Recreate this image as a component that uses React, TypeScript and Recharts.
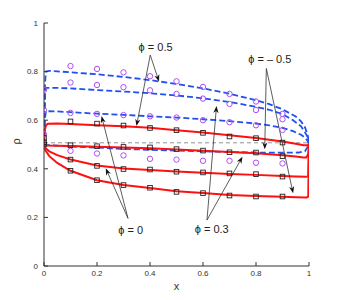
import React from 'react';
import {
  ComposedChart, Line, Scatter, XAxis, YAxis, ReferenceLine, ReferenceDot,
} from 'recharts';

// ---- solid red curves (model, phi values) ----
const redX1 = [0, 0.003, 0.008, 0.015, 0.05, 0.1, 0.2, 0.3, 0.4, 0.5, 0.6, 0.7, 0.8, 0.9, 0.95, 0.98, 0.995, 1];
const redY1 = [0.5, 0.56, 0.58, 0.585, 0.586, 0.584, 0.579, 0.575, 0.569, 0.559, 0.549, 0.538, 0.527, 0.512, 0.503, 0.497, 0.497, 0.5];
const redX2 = [0, 0.01, 0.05, 0.1, 0.2, 0.3, 0.4, 0.5, 0.6, 0.7, 0.8, 0.9, 0.95, 0.98, 0.99, 0.997, 1];
const redY2 = [0.5, 0.496, 0.495, 0.494, 0.491, 0.488, 0.485, 0.479, 0.474, 0.469, 0.464, 0.456, 0.451, 0.447, 0.447, 0.46, 0.5];
const redX3 = [0, 0.005, 0.02, 0.05, 0.1, 0.2, 0.3, 0.4, 0.5, 0.6, 0.7, 0.8, 0.9, 0.95, 0.99, 0.997, 1];
const redY3 = [0.5, 0.486, 0.472, 0.456, 0.438, 0.414, 0.401, 0.395, 0.389, 0.384, 0.379, 0.375, 0.37, 0.368, 0.367, 0.37, 0.5];
const redX4 = [0, 0.005, 0.02, 0.05, 0.1, 0.2, 0.3, 0.4, 0.5, 0.6, 0.7, 0.8, 0.9, 0.95, 0.99, 0.997, 1];
const redY4 = [0.5, 0.476, 0.452, 0.424, 0.392, 0.353, 0.333, 0.321, 0.308, 0.3, 0.292, 0.288, 0.285, 0.283, 0.282, 0.285, 0.5];

// ---- dashed blue curves ----
const blueX1 = [0, 0.002, 0.004, 0.007, 0.02, 0.05, 0.1, 0.2, 0.3, 0.4, 0.5, 0.6, 0.7, 0.8, 0.85, 0.9, 0.95, 0.97, 0.985, 0.995, 1];
const blueY1 = [0.5, 0.6, 0.75, 0.8, 0.803, 0.801, 0.797, 0.789, 0.778, 0.765, 0.749, 0.731, 0.709, 0.682, 0.666, 0.645, 0.615, 0.595, 0.57, 0.54, 0.5];
const blueX2 = [0, 0.002, 0.004, 0.008, 0.05, 0.1, 0.2, 0.3, 0.4, 0.5, 0.6, 0.7, 0.8, 0.85, 0.9, 0.94, 0.97, 0.985, 0.995, 1];
const blueY2 = [0.5, 0.6, 0.72, 0.733, 0.733, 0.731, 0.724, 0.718, 0.711, 0.702, 0.69, 0.675, 0.655, 0.643, 0.625, 0.6, 0.575, 0.55, 0.53, 0.5];
const blueX3 = [0, 0.003, 0.007, 0.05, 0.1, 0.2, 0.3, 0.4, 0.5, 0.6, 0.7, 0.8, 0.85, 0.9, 0.94, 0.97, 0.985, 0.995, 1];
const blueY3 = [0.5, 0.6, 0.637, 0.636, 0.633, 0.627, 0.622, 0.616, 0.611, 0.604, 0.596, 0.586, 0.579, 0.568, 0.555, 0.54, 0.528, 0.515, 0.5];
const blueX4 = [0, 0.01, 0.05, 0.1, 0.2, 0.3, 0.4, 0.5, 0.6, 0.7, 0.8, 0.9, 0.96, 0.985, 1];
const blueY4 = [0.5, 0.498, 0.495, 0.492, 0.487, 0.482, 0.478, 0.475, 0.472, 0.469, 0.467, 0.466, 0.467, 0.472, 0.5];

// ---- simulation markers ----
const circleX = [0, 0, 0, 0, 0.1, 0.2, 0.3, 0.4, 0.5, 0.6, 0.7, 0.8, 0.9,
  0.1, 0.2, 0.3, 0.4, 0.5, 0.6, 0.7, 0.8, 0.9,
  0.1, 0.2, 0.3, 0.4, 0.5, 0.6, 0.7, 0.8, 0.9,
  0.1, 0.2, 0.3, 0.4, 0.5, 0.6, 0.7, 0.8, 0.9];
const circleY = [0.725, 0.641, 0.542, 0.5, 0.823, 0.811, 0.797, 0.781, 0.76, 0.737, 0.708, 0.677, 0.626,
  0.755, 0.745, 0.736, 0.723, 0.708, 0.689, 0.667, 0.642, 0.604,
  0.63, 0.626, 0.621, 0.616, 0.611, 0.6, 0.592, 0.579, 0.56,
  0.474, 0.463, 0.455, 0.441, 0.438, 0.433, 0.433, 0.425, 0.422];
const squareX = [0, 0, 0, 0.1, 0.2, 0.3, 0.4, 0.5, 0.6, 0.7, 0.8, 0.9,
  0.1, 0.2, 0.3, 0.4, 0.5, 0.6, 0.7, 0.8, 0.9,
  0.1, 0.2, 0.3, 0.4, 0.5, 0.6, 0.7, 0.8, 0.9,
  0.1, 0.2, 0.3, 0.4, 0.5, 0.6, 0.7, 0.8, 0.9];
const squareY = [0.527, 0.509, 0.5, 0.595, 0.586, 0.578, 0.568, 0.559, 0.548, 0.533, 0.526, 0.508,
  0.497, 0.493, 0.49, 0.488, 0.481, 0.475, 0.468, 0.467, 0.452,
  0.438, 0.412, 0.399, 0.397, 0.388, 0.385, 0.381, 0.378, 0.368,
  0.392, 0.353, 0.333, 0.322, 0.305, 0.3, 0.29, 0.286, 0.286];

// ---- annotations ----
const labelText = ['ϕ = 0.5', 'ϕ = – 0.5', 'ϕ = 0', 'ϕ = 0.3'];
const labelX = [0.421, 0.852, 0.327, 0.633];
const labelY = [0.901, 0.852, 0.148, 0.152];
const arrowFromX = [0.401, 0.401, 0.839, 0.839, 0.317, 0.317, 0.615, 0.615];
const arrowFromY = [0.868, 0.868, 0.813, 0.813, 0.196, 0.196, 0.189, 0.189];
const arrowToX = [0.434, 0.349, 0.833, 0.94, 0.217, 0.233, 0.651, 0.749];
const arrowToY = [0.759, 0.576, 0.48, 0.299, 0.617, 0.402, 0.658, 0.45];

const ticks = [0, 0.2, 0.4, 0.6, 0.8, 1];
const fmt = (v: number) => String(v);

const zip = (xs: number[], ys: number[]) => xs.map((x, i) => ({ x, y: ys[i] }));

const redCurves = [zip(redX1, redY1), zip(redX2, redY2), zip(redX3, redY3), zip(redX4, redY4)];
const blueCurves = [zip(blueX1, blueY1), zip(blueX2, blueY2), zip(blueX3, blueY3), zip(blueX4, blueY4)];
const circles = zip(circleX, circleY);
const squares = zip(squareX, squareY);

const FONT = 'Liberation Sans, Arial, Helvetica, sans-serif';

const CircleMark = (props: any) => {
  const { cx, cy } = props;
  if (typeof cx !== 'number' || typeof cy !== 'number') return null;
  return <circle cx={cx} cy={cy} r={2.7} fill="none" stroke="#b04ef5" strokeWidth={1} />;
};

const SquareMark = (props: any) => {
  const { cx, cy } = props;
  if (typeof cx !== 'number' || typeof cy !== 'number') return null;
  return <rect x={cx - 2.3} y={cy - 2.3} width={4.6} height={4.6} fill="none" stroke="#222" strokeWidth={0.9} />;
};

const ArrowShape = (props: any) => {
  const { x1, y1, x2, y2 } = props;
  if ([x1, y1, x2, y2].some((v) => typeof v !== 'number' || isNaN(v))) return null;
  const dx = x2 - x1;
  const dy = y2 - y1;
  const len = Math.sqrt(dx * dx + dy * dy) || 1;
  const ux = dx / len;
  const uy = dy / len;
  const hl = 7;
  const hw = 2.6;
  const bx = x2 - ux * hl;
  const by = y2 - uy * hl;
  const nx = -uy;
  const ny = ux;
  const mx = x2 - ux * hl * 0.7;
  const my = y2 - uy * hl * 0.7;
  return (
    <g>
      <line x1={x1} y1={y1} x2={mx} y2={my} stroke="#333" strokeWidth={0.8} />
      <polygon
        points={`${x2},${y2} ${bx + nx * hw},${by + ny * hw} ${mx},${my} ${bx - nx * hw},${by - ny * hw}`}
        fill="#111"
        stroke="none"
      />
    </g>
  );
};

export default function App() {
  return (
    <div style={{ position: 'absolute', left: 0, top: 0 }}>
      <ComposedChart
        width={341}
        height={300}
        margin={{ top: 23, right: 32, bottom: 10, left: 0 }}
        style={{ fontFamily: FONT }}
      >
        <XAxis
          xAxisId="b"
          type="number"
          dataKey="x"
          domain={[0, 1]}
          ticks={ticks}
          tickFormatter={fmt}
          height={24}
          tickSize={-4}
          tickMargin={8}
          stroke="#333"
          tick={{ fontSize: 8, fill: '#333' }}
          allowDataOverflow
          label={{ value: 'x', position: 'insideBottom', offset: 0, fontSize: 11, fill: '#333' }}
        />
        <XAxis
          xAxisId="t"
          orientation="top"
          type="number"
          domain={[0, 1]}
          ticks={ticks}
          tickFormatter={() => ''}
          height={0}
          tickSize={-4}
          stroke="#333"
        />
        <YAxis
          yAxisId="l"
          type="number"
          domain={[0, 1]}
          ticks={ticks}
          tickFormatter={fmt}
          width={44}
          tickSize={-4}
          tickMargin={10}
          stroke="#333"
          tick={{ fontSize: 8, fill: '#333' }}
          allowDataOverflow
          label={{ value: 'ρ', angle: -90, position: 'insideLeft', offset: 16, fontSize: 11, fill: '#333' }}
        />
        <YAxis
          yAxisId="r"
          orientation="right"
          type="number"
          domain={[0, 1]}
          ticks={ticks}
          tickFormatter={() => ''}
          width={0}
          tickSize={-4}
          stroke="#333"
        />
        <ReferenceLine xAxisId="b" yAxisId="l" y={0.507} stroke="#888" strokeWidth={0.9} strokeDasharray="4 3" />
        {blueCurves.map((d, i) => (
          <Line
            key={'b' + i}
            xAxisId="b"
            yAxisId="l"
            data={d}
            dataKey="y"
            type="linear"
            stroke="#2050f0"
            strokeWidth={1.8}
            strokeDasharray="6 3"
            dot={false}
            isAnimationActive={false}
          />
        ))}
        {redCurves.map((d, i) => (
          <Line
            key={'r' + i}
            xAxisId="b"
            yAxisId="l"
            data={d}
            dataKey="y"
            type="linear"
            stroke="#ff1010"
            strokeWidth={2}
            dot={false}
            isAnimationActive={false}
          />
        ))}
        <Scatter
          xAxisId="b"
          yAxisId="l"
          data={circles}
          dataKey="y"
          shape={CircleMark}
          isAnimationActive={false}
        />
        <Scatter
          xAxisId="b"
          yAxisId="l"
          data={squares}
          dataKey="y"
          shape={SquareMark}
          isAnimationActive={false}
        />
        {arrowFromX.map((fx, i) => (
          <ReferenceLine
            key={'a' + i}
            xAxisId="b"
            yAxisId="l"
            segment={[{ x: fx, y: arrowFromY[i] }, { x: arrowToX[i], y: arrowToY[i] }]}
            shape={ArrowShape}
          />
        ))}
        {labelText.map((t, i) => (
          <ReferenceDot
            key={'t' + i}
            xAxisId="b"
            yAxisId="l"
            x={labelX[i]}
            y={labelY[i]}
            r={0}
            stroke="none"
            fill="none"
            label={{ value: t, position: 'center', fontSize: 11, fill: '#222' }}
          />
        ))}
      </ComposedChart>
    </div>
  );
}
